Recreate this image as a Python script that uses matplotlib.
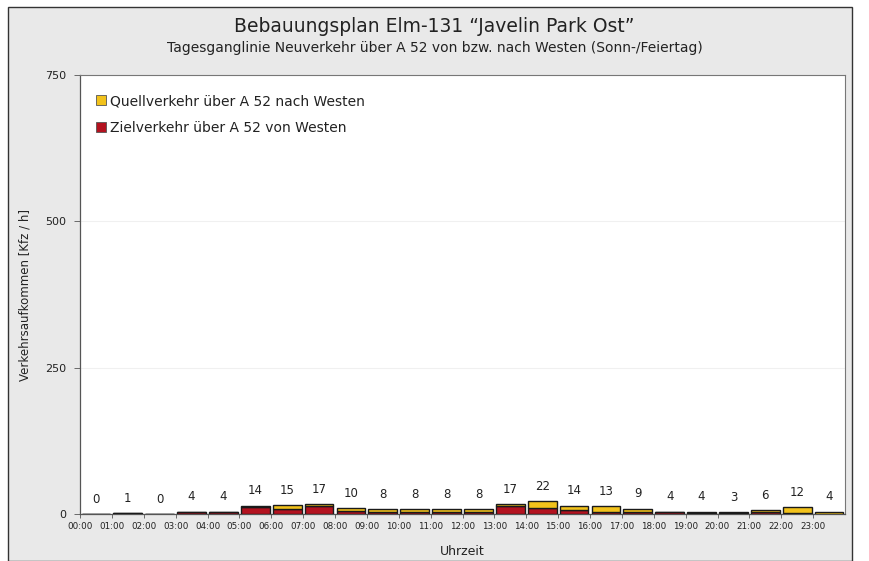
import matplotlib
matplotlib.use("Agg")
import matplotlib.pyplot as plt
from matplotlib.patches import Rectangle, Patch
import numpy as np

# Hourly new traffic via A 52 to/from the west (Sundays / public holidays)
hours = [f"{h:02d}:00" for h in range(24)]
quell = [0, 0, 0, 1, 1, 2, 6, 4, 5, 4, 4, 4, 4, 3, 12, 8, 9, 6, 1, 2, 1, 2, 10, 4]
ziel = [0, 1, 0, 3, 3, 12, 9, 13, 5, 4, 4, 4, 4, 14, 10, 6, 4, 3, 3, 2, 2, 4, 2, 0]
yticks = [0, 250, 500, 750]

title = "Bebauungsplan Elm-131 \u201cJavelin Park Ost\u201d"
subtitle = "Tagesganglinie Neuverkehr \u00fcber A 52 von bzw. nach Westen (Sonn-/Feiertag)"
label_quell = "Quellverkehr \u00fcber A 52 nach Westen"
label_ziel = "Zielverkehr \u00fcber A 52 von Westen"

c_quell = "#f2c21b"
c_ziel = "#b3121f"
panel_bg = "#e9e9e9"
txt = "#222222"

plt.rcParams["font.family"] = ["DejaVu Sans"]

fig = plt.figure(figsize=(8.69, 5.61), dpi=100)
fig.patch.set_facecolor("white")

# grey panel with dark frame behind the chart
fig.add_artist(Rectangle((8 / 869, 0.0), 844 / 869, 1 - 7 / 561,
                         transform=fig.transFigure, facecolor=panel_bg,
                         edgecolor="#333333", linewidth=1.0, zorder=-10))

ax = fig.add_axes([80 / 869, 1 - 514 / 561, 765 / 869, (514 - 75) / 561])
ax.set_facecolor("white")

x = np.arange(len(hours))
totals = [q + z for q, z in zip(quell, ziel)]
ax.bar(x + 0.05, ziel, width=0.9, align="edge", color=c_ziel,
       edgecolor="#1a1a1a", linewidth=1.0, zorder=3)
ax.bar(x + 0.05, quell, bottom=ziel, width=0.9, align="edge", color=c_quell,
       edgecolor="#1a1a1a", linewidth=1.0, zorder=3)

for xi, t in zip(x, totals):
    ax.annotate(str(t), (xi + 0.5, t), xytext=(0, 6), textcoords="offset points",
                ha="center", va="bottom", fontsize=8.5, color=txt)

ax.set_xlim(0, 24)
ax.set_ylim(0, 750)
ax.set_yticks(yticks)
ax.set_yticklabels([str(v) for v in yticks], fontsize=8, color=txt)
ax.set_xticks(x)
ax.set_xticklabels(hours, fontsize=6.3, color=txt)
ax.tick_params(axis="x", length=3, width=0.6, pad=3, color="#555555")
ax.tick_params(axis="y", length=4, width=0.6, pad=6, color="#555555")
ax.yaxis.grid(True, color="#f0f0f0", linewidth=0.8, zorder=0)
ax.set_axisbelow(True)
for side in ["top", "right"]:
    ax.spines[side].set_color("#777777")
    ax.spines[side].set_linewidth(0.8)
for side in ["left", "bottom"]:
    ax.spines[side].set_color("#555555")
    ax.spines[side].set_linewidth(0.9)

ax.set_ylabel("Verkehrsaufkommen [Kfz / h]", fontsize=8.5, color=txt, labelpad=10)
ax.set_xlabel("Uhrzeit", fontsize=9, color=txt, labelpad=10)

fig.text(0.5, 1 - 27 / 561, title, ha="center", va="center", fontsize=13.5, color=txt)
fig.text(0.5, 1 - 48 / 561, subtitle, ha="center", va="center", fontsize=10, color=txt)

handles = [Patch(facecolor=c_quell, edgecolor="#555555", linewidth=0.6),
           Patch(facecolor=c_ziel, edgecolor="#555555", linewidth=0.6)]
ax.legend(handles, [label_quell, label_ziel], loc="upper left",
          bbox_to_anchor=(0.005, 0.985), frameon=False, fontsize=10,
          handlelength=0.7, handleheight=0.7, handletextpad=0.3,
          labelspacing=0.9, labelcolor=txt)

fig.savefig("out.png", dpi=100, facecolor=fig.get_facecolor())
